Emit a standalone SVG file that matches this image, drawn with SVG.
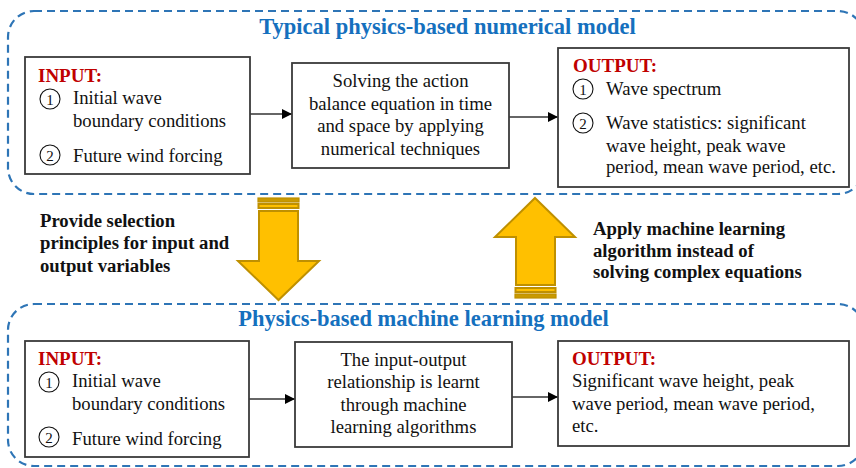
<svg xmlns="http://www.w3.org/2000/svg" width="856" height="468" viewBox="0 0 856 468">
<defs>
<style>
.frame{fill:none;stroke:#2E75B6;stroke-width:2.2;stroke-dasharray:8 5}
.box{fill:#fff;stroke:#3a3a3a;stroke-width:1.8}
.t{font-family:"Liberation Serif","Times New Roman",serif;font-size:18.7px;fill:#111}
.c{text-anchor:middle}
.b{font-weight:bold}
.title{font-family:"Liberation Serif","Times New Roman",serif;font-size:22.5px;font-weight:bold;fill:#1570BE}
.red{font-family:"Liberation Serif","Times New Roman",serif;font-size:19px;font-weight:bold;fill:#C00000}
.num{fill:none;stroke:#111;stroke-width:1.1}
.nd{font-family:"Liberation Serif","Times New Roman",serif;font-size:15px;fill:#111;text-anchor:middle}
.conn{stroke:#333;stroke-width:1.3;fill:none}
.yel{fill:#FFC000;stroke:#BF9000;stroke-width:2}
.yeld{fill:#C99A00;stroke:#BF9000;stroke-width:1.2}
</style>
<marker id="ah" markerWidth="10" markerHeight="10" refX="10" refY="5" orient="auto" markerUnits="userSpaceOnUse">
<path d="M0,0 L10,5 L0,10 z" fill="#000"/>
</marker>
</defs>

<rect class="frame" x="8" y="11" width="856" height="183" rx="26" ry="26"/>
<rect class="frame" x="8" y="304" width="856" height="162" rx="26" ry="26"/>
<text class="title c" x="447.5" y="34">Typical physics-based numerical model</text>
<text class="title c" x="423.5" y="326">Physics-based machine learning model</text>

<g id="conns">
<line class="conn" x1="250" y1="114" x2="292" y2="114" marker-end="url(#ah)"/>
<line class="conn" x1="509" y1="117" x2="558" y2="117" marker-end="url(#ah)"/>
<line class="conn" x1="249" y1="399" x2="295" y2="399" marker-end="url(#ah)"/>
<line class="conn" x1="512" y1="397" x2="558" y2="397" marker-end="url(#ah)"/>
</g>

<g id="top-input">
<rect class="box" x="25" y="57" width="225" height="117"/>
<text class="red" x="38" y="82">INPUT:</text>
<circle class="num" cx="50" cy="99" r="10"/><text class="nd" x="50" y="104.5">1</text>
<text class="t" x="73" y="104">Initial wave</text>
<text class="t" x="73" y="127">boundary conditions</text>
<circle class="num" cx="50" cy="155" r="10"/><text class="nd" x="50" y="160.5">2</text>
<text class="t" x="73" y="162">Future wind forcing</text>
</g>

<g id="top-process">
<rect class="box" x="292" y="63" width="217" height="105"/>
<text class="t c" x="400.5" y="87">Solving the action</text>
<text class="t c" x="400.5" y="110">balance equation in time</text>
<text class="t c" x="400.5" y="132">and space by applying</text>
<text class="t c" x="400.5" y="155">numerical techniques</text>
</g>

<g id="top-output">
<rect class="box" x="558" y="48" width="291" height="139"/>
<text class="red" x="573" y="72">OUTPUT:</text>
<circle class="num" cx="583" cy="89" r="10"/><text class="nd" x="583" y="94.5">1</text>
<text class="t" x="606" y="95">Wave spectrum</text>
<circle class="num" cx="583" cy="123" r="10"/><text class="nd" x="583" y="128.5">2</text>
<text class="t" x="606" y="129">Wave statistics: significant</text>
<text class="t" x="606" y="152">wave height, peak wave</text>
<text class="t" x="606" y="173">period, mean wave period, etc.</text>
</g>

<g id="down-arrow">
<rect class="yeld" x="258" y="198" width="41" height="4"/>
<rect class="yel" x="258.5" y="204" width="40" height="4" stroke-width="1.5"/>
<polygon class="yel" points="259,211 298,211 298,261 319,261 278.5,300 238,261 259,261"/>
</g>
<g id="down-label">
<text class="t b" x="40" y="227">Provide selection</text>
<text class="t b" x="40" y="249">principles for input and</text>
<text class="t b" x="40" y="272">output variables</text>
</g>

<g id="up-arrow">
<polygon class="yel" points="535,198 575,237 555,237 555,285 516,285 516,237 495,237"/>
<rect class="yel" x="515.5" y="288" width="40" height="4" stroke-width="1.5"/>
<rect class="yeld" x="515" y="294" width="41" height="4"/>
</g>
<g id="up-label">
<text class="t b" x="593" y="235">Apply machine learning</text>
<text class="t b" x="593" y="257">algorithm instead of</text>
<text class="t b" x="593" y="278">solving complex equations</text>
</g>

<g id="bottom-input">
<rect class="box" x="25" y="341" width="224" height="116"/>
<text class="red" x="38" y="365">INPUT:</text>
<circle class="num" cx="49" cy="382" r="10"/><text class="nd" x="49" y="387.5">1</text>
<text class="t" x="72" y="387">Initial wave</text>
<text class="t" x="72" y="410">boundary conditions</text>
<circle class="num" cx="49" cy="437" r="10"/><text class="nd" x="49" y="442.5">2</text>
<text class="t" x="72" y="445">Future wind forcing</text>
</g>

<g id="bottom-process">
<rect class="box" x="295" y="342" width="217" height="105"/>
<text class="t c" x="403.5" y="366">The input-output</text>
<text class="t c" x="403.5" y="388">relationship is learnt</text>
<text class="t c" x="403.5" y="411">through machine</text>
<text class="t c" x="403.5" y="433">learning algorithms</text>
</g>

<g id="bottom-output">
<rect class="box" x="558" y="341" width="291" height="105"/>
<text class="red" x="572" y="365">OUTPUT:</text>
<text class="t" x="572" y="387">Significant wave height, peak</text>
<text class="t" x="572" y="410">wave period, mean wave period,</text>
<text class="t" x="572" y="432">etc.</text>
</g>
</svg>
